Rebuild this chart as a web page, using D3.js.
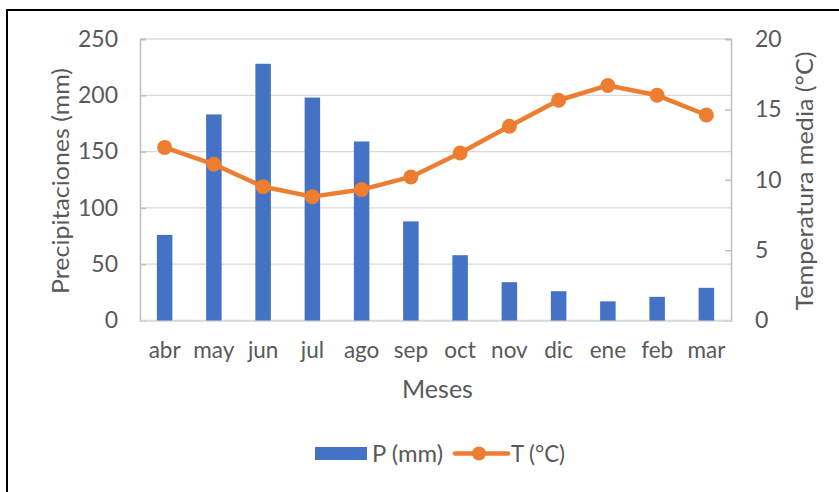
<!DOCTYPE html>
<html><head><meta charset="utf-8">
<script src="https://cdn.jsdelivr.net/npm/d3@7"></script>
<style>
html,body{margin:0;padding:0;background:#fff;overflow:hidden}
text{font-family:Lato,"Open Sans",sans-serif;fill:#595959}
</style></head>
<body><svg id="c" width="839" height="492"></svg>
<script>
const months = ["abr","may","jun","jul","ago","sep","oct","nov","dic","ene","feb","mar"];
const precip = [76,183,228,198,159,88,58,34,26,17,21,29];
const temp = [12.3,11.1,9.5,8.8,9.3,10.2,11.9,13.8,15.65,16.7,16.0,14.6];
const leftTicks = [0,50,100,150,200,250];
const rightTicks = [0,5,10,15,20];

const svg = d3.select("#c");
const L=140, R=731, T=39, B=320.5;

svg.append("rect").attr("x",7).attr("y",10).attr("width",860).attr("height",520)
  .attr("fill","#fff").attr("stroke","#000").attr("stroke-width",2);

const x = d3.scaleBand().domain(months).range([L,R]);
const yL = d3.scaleLinear().domain([0,250]).range([B,T]);
const yR = d3.scaleLinear().domain([0,20]).range([B,T]);

// gridlines
svg.append("g").selectAll("line").data(leftTicks).join("line")
  .attr("x1",L).attr("x2",R).attr("y1",d=>yL(d)).attr("y2",d=>yL(d))
  .attr("stroke","#d9d9d9").attr("stroke-width",1.3);

// left axis
const gl = svg.append("g").attr("transform",`translate(${L},0)`)
  .call(d3.axisLeft(yL).tickValues(leftTicks).tickSize(-6).tickPadding(22));
gl.select(".domain").attr("stroke","#bfbfbf").attr("stroke-width",1.5);
gl.selectAll(".tick line").attr("stroke","#bfbfbf").attr("stroke-width",1.5);
gl.selectAll("text").attr("font-size",23).attr("fill","#595959").style("font-family","Lato");

// right axis
const gr = svg.append("g").attr("transform",`translate(${R},0)`)
  .call(d3.axisRight(yR).tickValues(rightTicks).tickSize(-6).tickPadding(24));
gr.select(".domain").attr("stroke","#bfbfbf").attr("stroke-width",1.5);
gr.selectAll(".tick line").attr("stroke","#bfbfbf").attr("stroke-width",1.5);
gr.selectAll("text").attr("font-size",23).attr("fill","#595959").style("font-family","Lato");

// bottom axis
const gb = svg.append("g").attr("transform",`translate(0,${B})`)
  .call(d3.axisBottom(x).tickSize(0).tickPadding(22));
gb.select(".domain").attr("stroke","#d9d9d9").attr("stroke-width",1.5);
gb.selectAll("text").attr("font-size",22.5).attr("fill","#595959").style("font-family","Lato");

// bars
const bw = 15.5;
svg.append("g").selectAll("rect").data(precip).join("rect")
  .attr("x",(d,i)=>x(months[i])+x.bandwidth()/2-bw/2)
  .attr("y",d=>yL(d)).attr("width",bw).attr("height",d=>B-yL(d))
  .attr("fill","#4472C4");

// line
const line = d3.line().x((d,i)=>x(months[i])+x.bandwidth()/2).y(d=>yR(d));
svg.append("path").datum(temp).attr("d",line).attr("fill","none")
  .attr("stroke","#ED7D31").attr("stroke-width",4.5).attr("stroke-linejoin","round");
svg.append("g").selectAll("circle").data(temp).join("circle")
  .attr("cx",(d,i)=>x(months[i])+x.bandwidth()/2).attr("cy",d=>yR(d)).attr("r",7.5)
  .attr("fill","#ED7D31");

// axis titles
svg.append("text").attr("transform","translate(68.5,181) rotate(-90)")
  .attr("text-anchor","middle").attr("font-size",23)
  .attr("textLength",226).attr("lengthAdjust","spacingAndGlyphs").text("Precipitaciones (mm)");
svg.append("text").attr("transform","translate(813,181) rotate(-90)")
  .attr("text-anchor","middle").attr("font-size",23)
  .attr("textLength",259).attr("lengthAdjust","spacingAndGlyphs").text("Temperatura media (°C)");
svg.append("text").attr("x",437.5).attr("y",398).attr("text-anchor","middle")
  .attr("font-size",25).text("Meses");

// legend
const lg = svg.append("g");
lg.append("rect").attr("x",315).attr("y",447).attr("width",52).attr("height",13).attr("fill","#4472C4");
lg.append("text").attr("x",372).attr("y",462).attr("font-size",23)
  .attr("textLength",71).attr("lengthAdjust","spacingAndGlyphs").text("P (mm)");
lg.append("line").attr("x1",455).attr("x2",508).attr("y1",453.5).attr("y2",453.5)
  .attr("stroke","#ED7D31").attr("stroke-width",4.5).attr("stroke-linecap","round");
lg.append("circle").attr("cx",479).attr("cy",453.5).attr("r",7).attr("fill","#ED7D31");
lg.append("text").attr("x",511).attr("y",462).attr("font-size",23)
  .attr("textLength",54).attr("lengthAdjust","spacingAndGlyphs").text("T (°C)");
</script></body></html>
